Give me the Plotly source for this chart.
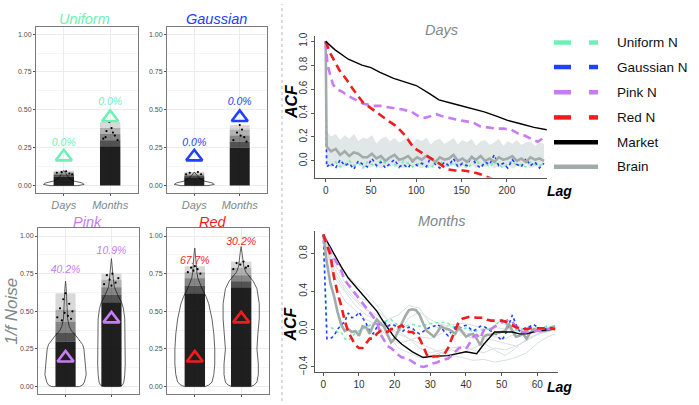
import plotly.graph_objects as go

W, H = 699, 405
FONT = "Liberation Sans, Arial, Helvetica, sans-serif"
GRAY_TEXT = "#7d898b"

def px(x):
    return x / W

def py(y):
    return 1 - y / H

# ------------------------------------------------------------------ data: left panels
PANELS = ["Uniform", "Gaussian", "Pink", "Red"]
CATEGORIES = ["Days", "Months"]
TICK_VALUES = [0.0, 0.25, 0.5, 0.75, 1.0]
TICK_LABELS = ["0.00", "0.25", "0.50", "0.75", "1.00"]

# reference markers (triangles) for Days / Months
UNIFORM_TRI = [0.19, 0.45]
GAUSSIAN_TRI = [0.19, 0.45]
PINK_TRI = [0.19, 0.45]
RED_TRI = [0.19, 0.45]

# percentage labels and their heights
UNIFORM_PCT = ["0.0%", "0.0%"]
GAUSSIAN_PCT = ["0.0%", "0.0%"]
PINK_PCT = ["40.2%", "10.9%"]
RED_PCT = ["67.7%", "30.2%"]
UNIFORM_PCT_Y = [0.28, 0.55]
GAUSSIAN_PCT_Y = [0.28, 0.55]
PINK_PCT_Y = [0.77, 0.90]
RED_PCT_Y = [0.83, 0.955]

# violin outlines: levels and half-widths (category units)
UNI_DAYS_VLEV = [0, 0.008, 0.018, 0.03, 0.05, 0.08, 0.1]
UNI_DAYS_VW = [0.30, 0.44, 0.39, 0.22, 0.11, 0.045, 0.0]
GAU_DAYS_VLEV = [0, 0.008, 0.018, 0.03, 0.05, 0.07, 0.09]
GAU_DAYS_VW = [0.30, 0.44, 0.39, 0.22, 0.11, 0.045, 0.0]
PINK_DAYS_VLEV = [0, 0.01, 0.03, 0.08, 0.15, 0.2, 0.25, 0.28, 0.31, 0.34, 0.37, 0.4, 0.45, 0.5, 0.55, 0.6, 0.65, 0.7]
PINK_DAYS_VW = [0.30, 0.37, 0.41, 0.45, 0.43, 0.42, 0.40, 0.37, 0.30, 0.22, 0.13, 0.08, 0.045, 0.033, 0.026, 0.022, 0.015, 0.0]
PINK_MONTHS_VLEV = [0, 0.01, 0.03, 0.08, 0.15, 0.3, 0.45, 0.52, 0.56, 0.6, 0.63, 0.66, 0.7, 0.75, 0.8, 0.85]
PINK_MONTHS_VW = [0.17, 0.24, 0.27, 0.29, 0.30, 0.30, 0.29, 0.26, 0.22, 0.15, 0.10, 0.065, 0.045, 0.026, 0.017, 0.0]
RED_DAYS_VLEV = [0, 0.01, 0.03, 0.08, 0.15, 0.25, 0.35, 0.45, 0.55, 0.6, 0.64, 0.68, 0.72, 0.76, 0.82, 0.88, 0.92]
RED_DAYS_VW = [0.22, 0.30, 0.37, 0.41, 0.43, 0.43, 0.41, 0.37, 0.30, 0.24, 0.17, 0.11, 0.065, 0.045, 0.026, 0.017, 0.0]
RED_MONTHS_VLEV = [0, 0.01, 0.03, 0.08, 0.15, 0.25, 0.35, 0.45, 0.55, 0.65, 0.7, 0.73, 0.76, 0.8, 0.85, 0.9, 0.93]
RED_MONTHS_VW = [0.20, 0.28, 0.34, 0.37, 0.37, 0.34, 0.36, 0.39, 0.39, 0.34, 0.26, 0.17, 0.10, 0.055, 0.033, 0.017, 0.0]

# jittered point clouds: density band boundaries (dense -> sparse)
UNI_DAYS_CLOUD = [0, 0.06, 0.07, 0.08, 0.09, 0.1]
UNI_MONTHS_CLOUD = [0, 0.26, 0.3, 0.34, 0.38, 0.42]
GAU_DAYS_CLOUD = [0, 0.055, 0.064, 0.072, 0.08, 0.09]
GAU_MONTHS_CLOUD = [0, 0.25, 0.29, 0.33, 0.37, 0.4]
PINK_DAYS_CLOUD = [0, 0.3, 0.36, 0.43, 0.51, 0.62]
PINK_MONTHS_CLOUD = [0, 0.56, 0.61, 0.66, 0.71, 0.75]
RED_DAYS_CLOUD = [0, 0.62, 0.67, 0.72, 0.76, 0.8]
RED_MONTHS_CLOUD = [0, 0.66, 0.7, 0.74, 0.79, 0.83]

# sparse top points (jitter offset, value)
UNI_DAYS_PTS_X = [-0.15, 0.05, 0.12, -0.05, 0.18]
UNI_DAYS_PTS_Y = [0.085, 0.095, 0.08, 0.09, 0.075]
UNI_MONTHS_PTS_X = [-0.02, 0.03, -0.08, 0.10, -0.15, 0.06, 0.16, -0.10]
UNI_MONTHS_PTS_Y = [0.42, 0.38, 0.36, 0.33, 0.31, 0.35, 0.30, 0.32]
GAU_DAYS_PTS_X = [-0.10, 0.08, 0.15, -0.18]
GAU_DAYS_PTS_Y = [0.085, 0.09, 0.075, 0.075]
GAU_MONTHS_PTS_X = [0.0, 0.05, -0.06, 0.10, -0.14, 0.02, 0.15]
GAU_MONTHS_PTS_Y = [0.40, 0.37, 0.35, 0.32, 0.30, 0.33, 0.29]
PINK_DAYS_PTS_X = [0.0, -0.05, 0.08, -0.12, 0.15, -0.02, 0.05, -0.18, 0.12, -0.08]
PINK_DAYS_PTS_Y = [0.62, 0.58, 0.55, 0.52, 0.50, 0.49, 0.47, 0.46, 0.45, 0.44]
PINK_MONTHS_PTS_X = [0.02, -0.10, 0.15, -0.04, 0.09, -0.16, 0.0]
PINK_MONTHS_PTS_Y = [0.75, 0.74, 0.72, 0.71, 0.69, 0.68, 0.67]
RED_DAYS_PTS_X = [0.0, -0.08, 0.06, -0.15, 0.12, -0.03]
RED_DAYS_PTS_Y = [0.80, 0.79, 0.78, 0.76, 0.75, 0.77]
RED_MONTHS_PTS_X = [0.05, -0.10, 0.15, -0.02, 0.10, -0.17]
RED_MONTHS_PTS_Y = [0.83, 0.82, 0.80, 0.81, 0.79, 0.78]

# ------------------------------------------------------------------ data: ACF (Days)
DAYS_TICKS = [0, 50, 100, 150, 200]
ACF_TICKS_DAYS = [0.0, 0.2, 0.4, 0.6, 0.8, 1.0]
MARKET_DAYS_LAG = [0, 10, 25, 40, 50, 60, 75, 90, 100, 115, 125, 140, 150, 165, 175, 190, 200, 215, 230, 244]
MARKET_DAYS = [1.0, 0.93, 0.85, 0.80, 0.78, 0.74, 0.69, 0.65, 0.63, 0.56, 0.51, 0.48, 0.46, 0.43, 0.41, 0.37, 0.34, 0.31, 0.28, 0.26]
RED_DAYS_LAG = [0, 5, 10, 15, 23, 30, 41, 50, 60, 70, 78, 88, 97, 106, 115, 125, 134, 143, 152, 160, 170, 180, 190]
RED_DAYS_ACF = [1.0, 0.90, 0.83, 0.76, 0.68, 0.60, 0.49, 0.44, 0.38, 0.33, 0.29, 0.21, 0.11, 0.07, 0.03, -0.02, -0.07, -0.08, -0.08, -0.09, -0.11, -0.14, -0.17]
PINK_DAYS_LAG = [0, 2, 5, 8, 12, 18, 23, 30, 41, 52, 60, 67, 75, 85, 95, 103, 110, 115, 122, 130, 140, 148, 155, 163, 170, 180, 188, 196, 205, 212, 220, 228, 234, 240, 244]
PINK_DAYS_ACF = [1.0, 0.80, 0.72, 0.64, 0.60, 0.58, 0.55, 0.52, 0.48, 0.46, 0.46, 0.45, 0.44, 0.43, 0.41, 0.37, 0.36, 0.37, 0.39, 0.37, 0.35, 0.34, 0.33, 0.32, 0.29, 0.28, 0.27, 0.27, 0.26, 0.23, 0.21, 0.18, 0.16, 0.19, 0.20]
DAYS_NOISE_LAG = [0, 1, 6, 11, 16, 21, 26, 31, 36, 41, 46, 51, 56, 61, 66, 71, 76, 81, 86, 91,
                  96, 101, 106, 111, 116, 121, 126, 131, 136, 141, 146, 151, 156, 161, 166, 171, 176, 181, 186, 191,
                  196, 201, 206, 211, 216, 221, 226, 231, 236, 241]
BRAIN_DAYS = [1.00, 0.12, 0.08, 0.10, 0.05, 0.08, 0.04, 0.07, 0.06, 0.03,
              0.03, 0.06, 0.02, 0.04, 0.00, 0.03, 0.05, 0.01, 0.02, 0.04,
              0.00, 0.03, 0.01, 0.04, 0.02, -0.01, 0.03, 0.01, 0.02, 0.05,
              0.00, 0.02, -0.01, 0.03, 0.01, 0.04, 0.00, 0.02, -0.01, 0.03,
              0.01, 0.02, 0.04, 0.00, 0.02, -0.01, 0.03, 0.01, 0.02, 0.00]
BRAIN_DAYS_HI = [1.00, 0.24, 0.20, 0.22, 0.17, 0.21, 0.18, 0.22, 0.16, 0.19,
                 0.18, 0.21, 0.14, 0.18, 0.20, 0.16, 0.19, 0.15, 0.17, 0.20,
                 0.14, 0.18, 0.16, 0.19, 0.13, 0.17, 0.18, 0.14, 0.16, 0.19,
                 0.13, 0.17, 0.15, 0.18, 0.12, 0.16, 0.17, 0.13, 0.15, 0.18,
                 0.12, 0.16, 0.14, 0.17, 0.13, 0.15, 0.16, 0.12, 0.15, 0.14]
BRAIN_DAYS_LO = [1.00, -0.03, -0.05, -0.02, -0.06, -0.04, -0.03, -0.05, -0.02, -0.06,
                 -0.04, -0.05, -0.03, -0.06, -0.04, -0.02, -0.05, -0.04, -0.06, -0.03,
                 -0.05, -0.04, -0.06, -0.03, -0.05, -0.02, -0.06, -0.04, -0.05, -0.03,
                 -0.06, -0.04, -0.05, -0.02, -0.06, -0.04, -0.05, -0.03, -0.06, -0.04,
                 -0.05, -0.03, -0.06, -0.04, -0.05, -0.02, -0.06, -0.04, -0.05, -0.03]
GAUSS_DAYS = [1.00, -0.05, -0.02, -0.06, 0.01, -0.04, -0.02, -0.07, 0.00, -0.03,
              -0.05, 0.02, -0.04, -0.01, -0.06, -0.02, 0.01, -0.05, -0.03, -0.06,
              0.00, -0.04, -0.02, -0.05, 0.03, -0.03, -0.06, -0.01, -0.04, 0.02,
              -0.05, -0.02, -0.04, 0.04, -0.03, -0.06, -0.01, -0.03, 0.05, -0.04,
              -0.02, -0.06, 0.01, -0.03, -0.05, 0.02, -0.04, -0.01, -0.06, -0.02]
UNIF_DAYS = [1.00, -0.02, -0.04, -0.01, -0.05, -0.03, 0.00, -0.04, -0.02, -0.06,
             -0.01, -0.03, -0.05, 0.01, -0.02, -0.04, -0.03, -0.06, 0.00, -0.02,
             -0.05, -0.03, -0.01, -0.04, -0.06, -0.02, 0.00, -0.03, -0.05, -0.01,
             -0.04, -0.02, -0.06, -0.03, 0.01, -0.04, -0.02, -0.05, -0.01, -0.03,
             -0.06, -0.02, 0.00, -0.04, -0.03, -0.05, -0.01, -0.03, -0.04, -0.02]

# ------------------------------------------------------------------ data: ACF (Months)
MONTHS_TICKS = [0, 10, 20, 30, 40, 50, 60]
ACF_TICKS_MONTHS = [-0.4, 0.0, 0.4, 0.8]
MONTH_LAG = [0, 1, 2, 3, 4, 5, 6, 7, 8, 9, 10, 11, 12, 13, 14, 15, 16, 17, 18, 19,
             20, 21, 22, 23, 24, 25, 26, 27, 28, 29, 30, 31, 32, 33, 34, 35, 36, 37, 38, 39,
             40, 41, 42, 43, 44, 45, 46, 47, 48, 49, 50, 51, 52, 53, 54, 55, 56, 57, 58, 59,
             60, 61, 62, 63, 64, 65]
GAUSS_MONTHS = [1.00, -0.10, -0.10, -0.07, 0.00, 0.04, 0.08, 0.17, 0.12, 0.13,
                0.18, 0.12, 0.06, -0.02, -0.05, 0.02, 0.05, 0.08, 0.03, 0.05,
                0.04, 0.00, -0.03, 0.00, 0.02, 0.01, -0.03, -0.05, -0.02, 0.00,
                0.02, 0.03, 0.05, 0.02, -0.03, -0.07, -0.02, 0.02, 0.00, 0.03,
                0.04, 0.01, -0.02, 0.00, 0.03, 0.03, 0.00, -0.02, -0.04, -0.08,
                -0.12, -0.06, 0.05, 0.15, 0.05, -0.02, 0.00, 0.02, 0.03, 0.05,
                0.02, 0.00, 0.00, 0.01, 0.00, 0.01]
UNIF_MONTHS = [1.00, 0.03, 0.02, 0.00, -0.03, -0.03, -0.10, -0.12, -0.08, -0.04,
               -0.02, 0.00, 0.02, 0.04, 0.06, 0.05, 0.06, 0.08, 0.09, 0.10,
               0.07, 0.04, 0.03, 0.03, 0.04, 0.05, 0.04, 0.03, 0.04, 0.05,
               0.06, 0.06, 0.07, 0.07, 0.07, 0.06, 0.04, 0.02, 0.00, 0.00,
               0.01, -0.01, -0.03, -0.02, -0.01, -0.01, 0.00, 0.00, 0.03, 0.06,
               0.10, 0.06, 0.02, 0.00, -0.01, 0.00, 0.00, -0.01, 0.00, 0.00,
               0.00, 0.01, 0.02, 0.04, 0.02, 0.01]
BRAIN_MONTHS = [1.00, 0.70, 0.48, 0.35, 0.18, 0.05, -0.02, 0.00, -0.03, -0.02,
                -0.07, 0.03, 0.02, -0.05, 0.04, 0.10, 0.06, 0.03, -0.06, -0.14,
                -0.10, -0.02, 0.06, 0.14, 0.20, 0.21, 0.20, 0.15, 0.06, -0.02,
                -0.05, -0.08, -0.03, 0.03, 0.01, 0.00, -0.02, -0.05, 0.02, -0.03,
                -0.08, -0.06, -0.05, -0.10, -0.17, -0.08, -0.06, -0.06, -0.05, -0.04,
                -0.03, -0.02, 0.06, -0.02, -0.08, -0.07, -0.05, -0.10, -0.04, 0.00,
                -0.01, -0.02, -0.02, -0.01, 0.02, 0.03]
RED_MONTHS = [1.00, 0.90, 0.78, 0.55, 0.38, 0.25, 0.09, -0.03, -0.10, -0.17,
              -0.20, -0.20, -0.15, -0.10, -0.10, -0.05, -0.02, -0.01, -0.03, 0.00,
              0.00, 0.02, 0.04, 0.00, -0.03, -0.03, -0.06, -0.10, -0.18, -0.27,
              -0.30, -0.29, -0.29, -0.28, -0.26, -0.20, -0.10, 0.00, 0.08, 0.11,
              0.12, 0.13, 0.13, 0.12, 0.12, 0.12, 0.10, 0.09, 0.09, 0.09,
              0.09, 0.08, 0.06, 0.04, 0.02, 0.01, 0.00, 0.00, 0.01, 0.01,
              0.01, 0.01, 0.01, 0.01, 0.01, 0.00]
PINK_MONTHS = [1.00, 0.90, 0.82, 0.75, 0.68, 0.62, 0.52, 0.47, 0.43, 0.38,
               0.32, 0.27, 0.22, 0.18, 0.12, 0.08, -0.05, -0.12, -0.18, -0.20,
               -0.24, -0.27, -0.30, -0.30, -0.32, -0.35, -0.37, -0.39, -0.40, -0.39,
               -0.37, -0.36, -0.35, -0.33, -0.32, -0.31, -0.28, -0.24, -0.20, -0.20,
               -0.21, -0.15, -0.08, -0.06, -0.10, -0.01, -0.02, 0.00, 0.03, 0.05,
               0.07, 0.08, 0.10, 0.08, 0.02, -0.02, -0.03, -0.03, -0.02, -0.02,
               -0.02, -0.02, -0.01, 0.00, 0.01, 0.01]
MARKET_MONTHS_LAG = [0, 2, 5, 7, 10, 12, 15, 17, 20, 22, 25, 28, 30, 35, 40, 43, 45, 48, 50, 53, 55, 57, 60, 63, 65]
MARKET_MONTHS = [1.0, 0.86, 0.66, 0.54, 0.41, 0.32, 0.19, 0.07, -0.09, -0.16, -0.24, -0.30, -0.29, -0.28, -0.24, -0.26, -0.16, -0.03, -0.03, -0.03, -0.05, -0.05, -0.02, -0.01, 0.0]
SUBJ_MONTH_LAG = [0, 3, 6, 9, 12, 15, 18, 21, 24, 27, 30, 33, 36, 39, 42, 45, 48, 51, 54, 57, 60, 63, 65]
SUBJ_A = [1.0, 0.75, 0.6, 0.48, 0.38, 0.25, 0.1, -0.02, -0.1, -0.15, -0.2, -0.25, -0.28, -0.3, -0.33, -0.32, -0.35, -0.33, -0.3, -0.25, -0.15, -0.08, -0.05]
SUBJ_B = [1.0, 0.6, 0.42, 0.3, 0.2, 0.15, 0.05, -0.05, -0.1, -0.2, -0.25, -0.22, -0.2, -0.18, -0.22, -0.25, -0.2, -0.22, -0.18, -0.12, -0.06, -0.02, 0.0]
SUBJ_C = [1.0, 0.7, 0.5, 0.35, 0.3, 0.2, 0.1, 0.15, 0.25, 0.22, 0.05, 0.0, 0.05, 0.06, 0.04, 0.0, 0.02, 0.0, -0.02, 0.0, 0.02, 0.01, 0.02]
SUBJ_D = [1.0, 0.5, 0.3, 0.2, 0.1, 0.05, -0.08, -0.15, -0.12, -0.08, -0.1, -0.05, 0.02, -0.03, -0.06, -0.1, -0.12, -0.15, -0.18, -0.12, -0.05, 0.0, 0.02]
SUBJ_E = [1.0, 0.55, 0.4, 0.25, 0.15, 0.1, 0.0, -0.05, 0.12, 0.18, 0.1, 0.05, 0.03, -0.05, -0.1, -0.05, -0.08, -0.1, -0.05, -0.03, -0.02, 0.0, 0.01]
SUBJ_F = [1.0, 0.65, 0.45, 0.32, 0.22, 0.12, -0.05, -0.2, -0.25, -0.3, -0.28, -0.25, -0.22, -0.25, -0.2, -0.15, -0.22, -0.28, -0.2, -0.1, -0.05, -0.03, 0.0]

LEGEND_LABELS = ["Uniform N", "Gaussian N", "Pink N", "Red N", "Market", "Brain"]

# ------------------------------------------------------------------ styles
C_UNI = "#6ff0b6"
C_GAU = "#2140ff"
C_PINK = "#c77cf3"
C_RED = "#f21c1c"
C_BRAIN = "#a2abab"
C_BAND = "#e1e6e6"
C_SUBJ = "#d9dfdf"
CLOUD_ALPHAS = [0.88, 0.68, 0.48, 0.3, 0.15]
JITTER = 0.22

fig = go.Figure()

# ------------------------------------------------------------------ left panels
panel_boxes = [(36, 138, 23, 193), (167, 267, 23, 193), (38, 139, 229, 398), (167, 269, 229, 398)]
panel_colors = [C_UNI, C_GAU, C_PINK, C_RED]
panel_title_x = [84, 216, 87, 213]
panel_title_y = [15, 15, 222, 222]
panel_data = [
    dict(tri=UNIFORM_TRI, pct=UNIFORM_PCT, pcty=UNIFORM_PCT_Y,
         viol=[(UNI_DAYS_VLEV, UNI_DAYS_VW), None],
         cloud=[UNI_DAYS_CLOUD, UNI_MONTHS_CLOUD],
         pts=[(UNI_DAYS_PTS_X, UNI_DAYS_PTS_Y), (UNI_MONTHS_PTS_X, UNI_MONTHS_PTS_Y)]),
    dict(tri=GAUSSIAN_TRI, pct=GAUSSIAN_PCT, pcty=GAUSSIAN_PCT_Y,
         viol=[(GAU_DAYS_VLEV, GAU_DAYS_VW), None],
         cloud=[GAU_DAYS_CLOUD, GAU_MONTHS_CLOUD],
         pts=[(GAU_DAYS_PTS_X, GAU_DAYS_PTS_Y), (GAU_MONTHS_PTS_X, GAU_MONTHS_PTS_Y)]),
    dict(tri=PINK_TRI, pct=PINK_PCT, pcty=PINK_PCT_Y,
         viol=[(PINK_DAYS_VLEV, PINK_DAYS_VW), (PINK_MONTHS_VLEV, PINK_MONTHS_VW)],
         cloud=[PINK_DAYS_CLOUD, PINK_MONTHS_CLOUD],
         pts=[(PINK_DAYS_PTS_X, PINK_DAYS_PTS_Y), (PINK_MONTHS_PTS_X, PINK_MONTHS_PTS_Y)]),
    dict(tri=RED_TRI, pct=RED_PCT, pcty=RED_PCT_Y,
         viol=[(RED_DAYS_VLEV, RED_DAYS_VW), (RED_MONTHS_VLEV, RED_MONTHS_VW)],
         cloud=[RED_DAYS_CLOUD, RED_MONTHS_CLOUD],
         pts=[(RED_DAYS_PTS_X, RED_DAYS_PTS_Y), (RED_MONTHS_PTS_X, RED_MONTHS_PTS_Y)]),
]

annotations = []
shapes = []


def note(x, y, text, font, angle=0, xanchor="center"):
    annotations.append(dict(x=px(x), y=py(y), xref="paper", yref="paper", text=text,
                            showarrow=False, textangle=angle, xanchor=xanchor, yanchor="middle",
                            borderpad=0, font=font))


for i, name in enumerate(PANELS):
    n = i + 1
    xr = "x" if n == 1 else f"x{n}"
    yr = "y" if n == 1 else f"y{n}"
    d = panel_data[i]
    col = panel_colors[i]
    for c_idx, cat in enumerate(CATEGORIES):
        c = c_idx + 1
        v = d["viol"][c_idx]
        if v is not None:
            lev, wid = v
            vx = [c + w for w in wid] + [c - w for w in reversed(wid)] + [c + wid[0]]
            vy = list(lev) + list(reversed(lev)) + [lev[0]]
            fig.add_trace(go.Scatter(x=vx, y=vy, xaxis=xr, yaxis=yr, mode="lines",
                                     line=dict(color="#3a3a3a", width=0.8), hoverinfo="skip"))
        levels = d["cloud"][c_idx]
        for k in range(len(levels) - 1):
            lo, hi = levels[k], levels[k + 1]
            fig.add_trace(go.Scatter(
                x=[c - JITTER, c + JITTER, c + JITTER, c - JITTER, c - JITTER],
                y=[lo, lo, hi, hi, lo], xaxis=xr, yaxis=yr, mode="lines", fill="toself",
                fillcolor=f"rgba(0,0,0,{CLOUD_ALPHAS[k]})", line=dict(width=0), hoverinfo="skip"))
        ptx, pty = d["pts"][c_idx]
        fig.add_trace(go.Scatter(x=[c + o for o in ptx], y=pty, xaxis=xr, yaxis=yr, mode="markers",
                                 marker=dict(color="black", size=2.2), hoverinfo="skip"))
    fig.add_trace(go.Scatter(x=[1, 2], y=d["tri"], xaxis=xr, yaxis=yr, mode="markers",
                             marker=dict(symbol="triangle-up-open", size=14, color=col,
                                         line=dict(color=col, width=2.6)), hoverinfo="skip"))
    fig.add_trace(go.Scatter(x=[1, 2], y=d["pcty"], text=d["pct"], xaxis=xr, yaxis=yr, mode="text",
                             textfont=dict(family=FONT, size=10.5, color=col, style="italic"),
                             hoverinfo="skip", cliponaxis=False))
    x0, x1, y0, y1 = panel_boxes[i]
    top = i < 2
    fig.update_layout(**{
        ("xaxis" if n == 1 else f"xaxis{n}"): dict(
            domain=[px(x0), px(x1)], anchor=yr, range=[0.4, 2.6],
            tickmode="array", tickvals=[1, 2], ticktext=CATEGORIES if top else ["", ""],
            ticks="outside", ticklen=2, tickcolor="#555", tickwidth=0.6,
            tickfont=dict(family=FONT, size=11, color=GRAY_TEXT, style="italic"),
            showgrid=True, gridcolor="#ececec", gridwidth=0.6, zeroline=False,
            showline=True, mirror=True, linecolor="#7a7a7a", linewidth=1),
        ("yaxis" if n == 1 else f"yaxis{n}"): dict(
            domain=[py(y1), py(y0)], anchor=xr, range=[-0.05, 1.05],
            tickmode="array", tickvals=TICK_VALUES, ticktext=TICK_LABELS,
            ticks="outside", ticklen=2, tickcolor="#555", tickwidth=0.6,
            tickfont=dict(family=FONT, size=7, color="#4d4d4d"),
            showgrid=True, gridcolor="#ececec", gridwidth=0.6, zeroline=False,
            minor=dict(tick0=0.125, dtick=0.25, showgrid=True, gridcolor="#f5f5f5", gridwidth=0.5),
            showline=True, mirror=True, linecolor="#7a7a7a", linewidth=1),
    })
    note(panel_title_x[i], panel_title_y[i], name,
         dict(family=FONT, size=14.5, color=col, style="italic"))

note(12, 314, "1/f Noise", dict(family=FONT, size=17, color=GRAY_TEXT, style="italic"), angle=-90)

# ------------------------------------------------------------------ ACF Days (x5/y5)
fig.add_trace(go.Scatter(x=DAYS_NOISE_LAG, y=BRAIN_DAYS_HI, xaxis="x5", yaxis="y5", mode="lines",
                         line=dict(width=0.6, color="#d8dede"), hoverinfo="skip"))
fig.add_trace(go.Scatter(x=DAYS_NOISE_LAG, y=BRAIN_DAYS_LO, xaxis="x5", yaxis="y5", mode="lines",
                         fill="tonexty", fillcolor=C_BAND, line=dict(width=0.6, color="#d8dede"), hoverinfo="skip"))
fig.add_trace(go.Scatter(x=DAYS_NOISE_LAG, y=UNIF_DAYS, xaxis="x5", yaxis="y5", mode="lines",
                         line=dict(color=C_UNI, width=1.6, dash="3px,3px"), hoverinfo="skip"))
fig.add_trace(go.Scatter(x=DAYS_NOISE_LAG, y=GAUSS_DAYS, xaxis="x5", yaxis="y5", mode="lines",
                         line=dict(color=C_GAU, width=1.6, dash="3px,3px"), hoverinfo="skip"))
fig.add_trace(go.Scatter(x=DAYS_NOISE_LAG, y=BRAIN_DAYS, xaxis="x5", yaxis="y5", mode="lines",
                         line=dict(color=C_BRAIN, width=2.6), hoverinfo="skip"))
fig.add_trace(go.Scatter(x=PINK_DAYS_LAG, y=PINK_DAYS_ACF, xaxis="x5", yaxis="y5", mode="lines",
                         line=dict(color=C_PINK, width=2.6, dash="8px,5px"), hoverinfo="skip"))
fig.add_trace(go.Scatter(x=RED_DAYS_LAG, y=RED_DAYS_ACF, xaxis="x5", yaxis="y5", mode="lines",
                         line=dict(color=C_RED, width=2.6, dash="8px,5px"), hoverinfo="skip"))
fig.add_trace(go.Scatter(x=MARKET_DAYS_LAG, y=MARKET_DAYS, xaxis="x5", yaxis="y5", mode="lines",
                         line=dict(color="black", width=1.4), hoverinfo="skip"))

# ------------------------------------------------------------------ ACF Months (x6/y6)
for s in [SUBJ_A, SUBJ_B, SUBJ_C, SUBJ_D, SUBJ_E, SUBJ_F]:
    fig.add_trace(go.Scatter(x=SUBJ_MONTH_LAG, y=s, xaxis="x6", yaxis="y6", mode="lines",
                             line=dict(color=C_SUBJ, width=1), hoverinfo="skip"))
fig.add_trace(go.Scatter(x=MONTH_LAG, y=UNIF_MONTHS, xaxis="x6", yaxis="y6", mode="lines",
                         line=dict(color=C_UNI, width=1.6, dash="3px,3px"), hoverinfo="skip"))
fig.add_trace(go.Scatter(x=MONTH_LAG, y=GAUSS_MONTHS, xaxis="x6", yaxis="y6", mode="lines",
                         line=dict(color=C_GAU, width=1.6, dash="3px,3px"), hoverinfo="skip"))
fig.add_trace(go.Scatter(x=MONTH_LAG, y=BRAIN_MONTHS, xaxis="x6", yaxis="y6", mode="lines",
                         line=dict(color=C_BRAIN, width=2.6), hoverinfo="skip"))
fig.add_trace(go.Scatter(x=MARKET_MONTHS_LAG, y=MARKET_MONTHS, xaxis="x6", yaxis="y6", mode="lines",
                         line=dict(color="black", width=1.4), hoverinfo="skip"))
fig.add_trace(go.Scatter(x=MONTH_LAG, y=PINK_MONTHS, xaxis="x6", yaxis="y6", mode="lines",
                         line=dict(color=C_PINK, width=2.6, dash="8px,5px"), hoverinfo="skip"))
fig.add_trace(go.Scatter(x=MONTH_LAG, y=RED_MONTHS, xaxis="x6", yaxis="y6", mode="lines",
                         line=dict(color=C_RED, width=2.6, dash="8px,5px"), hoverinfo="skip"))

acf_axis = dict(showline=True, linecolor="#555", linewidth=1, ticks="outside", ticklen=3,
                tickcolor="#555", tickwidth=1, showgrid=False, zeroline=False,
                tickfont=dict(family=FONT, size=10, color="#333"))
fig.update_layout(
    xaxis5=dict(domain=[px(315), px(547)], anchor="y5", range=[-11.8, 244.3],
                tickmode="array", tickvals=DAYS_TICKS, ticktext=[str(t) for t in DAYS_TICKS], **acf_axis),
    yaxis5=dict(domain=[py(177), py(33)], anchor="x5", range=[-0.139, 1.041], tickangle=-90,
                tickmode="array", tickvals=ACF_TICKS_DAYS, ticktext=[f"{t:.1f}" for t in ACF_TICKS_DAYS], **acf_axis),
    xaxis6=dict(domain=[px(315), px(558)], anchor="y6", range=[-2.33, 65.8],
                tickmode="array", tickvals=MONTHS_TICKS, ticktext=[str(t) for t in MONTHS_TICKS], **acf_axis),
    yaxis6=dict(domain=[py(375), py(232)], anchor="x6", range=[-0.449, 1.033], tickangle=-90,
                tickmode="array", tickvals=ACF_TICKS_MONTHS,
                ticktext=["\u22120.4" if t < 0 else f"{t:.1f}" for t in ACF_TICKS_MONTHS], **acf_axis),
)

note(441.7, 27, "Days", dict(family=FONT, size=14.5, color=GRAY_TEXT, style="italic"))
note(441.7, 221, "Months", dict(family=FONT, size=14.5, color=GRAY_TEXT, style="italic"))
for ty in [100, 327]:
    note(291, ty, "ACF", dict(family=FONT, size=16, color="black", style="italic", weight="bold"), angle=-90)
for ty in [191, 391]:
    note(559, ty, "Lag", dict(family=FONT, size=14, color="black", style="italic", weight="bold"))

# separator
shapes.append(dict(type="line", xref="paper", yref="paper", x0=px(282), x1=px(282), y0=0, y1=1,
                   line=dict(color="#b5b5b5", width=1, dash="dot")))

# legend
leg_rows = [39.3, 64.3, 90, 115.7, 141, 166]
leg_colors = [C_UNI, C_GAU, C_PINK, C_RED, "black", C_BRAIN]
for k, lab in enumerate(LEGEND_LABELS):
    yy = leg_rows[k]
    col = leg_colors[k]
    if k < 4:
        segs = [(554, 571), (589, 598)]
    else:
        segs = [(554, 598)]
    for a, b in segs:
        shapes.append(dict(type="line", xref="paper", yref="paper", x0=px(a), x1=px(b), y0=py(yy), y1=py(yy),
                           line=dict(color=col, width=4.5)))
    note(616, yy, lab, dict(family=FONT, size=13.5, color="#111"), xanchor="left")

fig.update_layout(width=W, height=H, autosize=False, margin=dict(l=0, r=0, t=0, b=0),
                  paper_bgcolor="white", plot_bgcolor="white", showlegend=False,
                  annotations=annotations, shapes=shapes, font=dict(family=FONT))

fig.write_html("out.html", config={"displayModeBar": False},
               post_script="document.body.style.margin='0px';")
